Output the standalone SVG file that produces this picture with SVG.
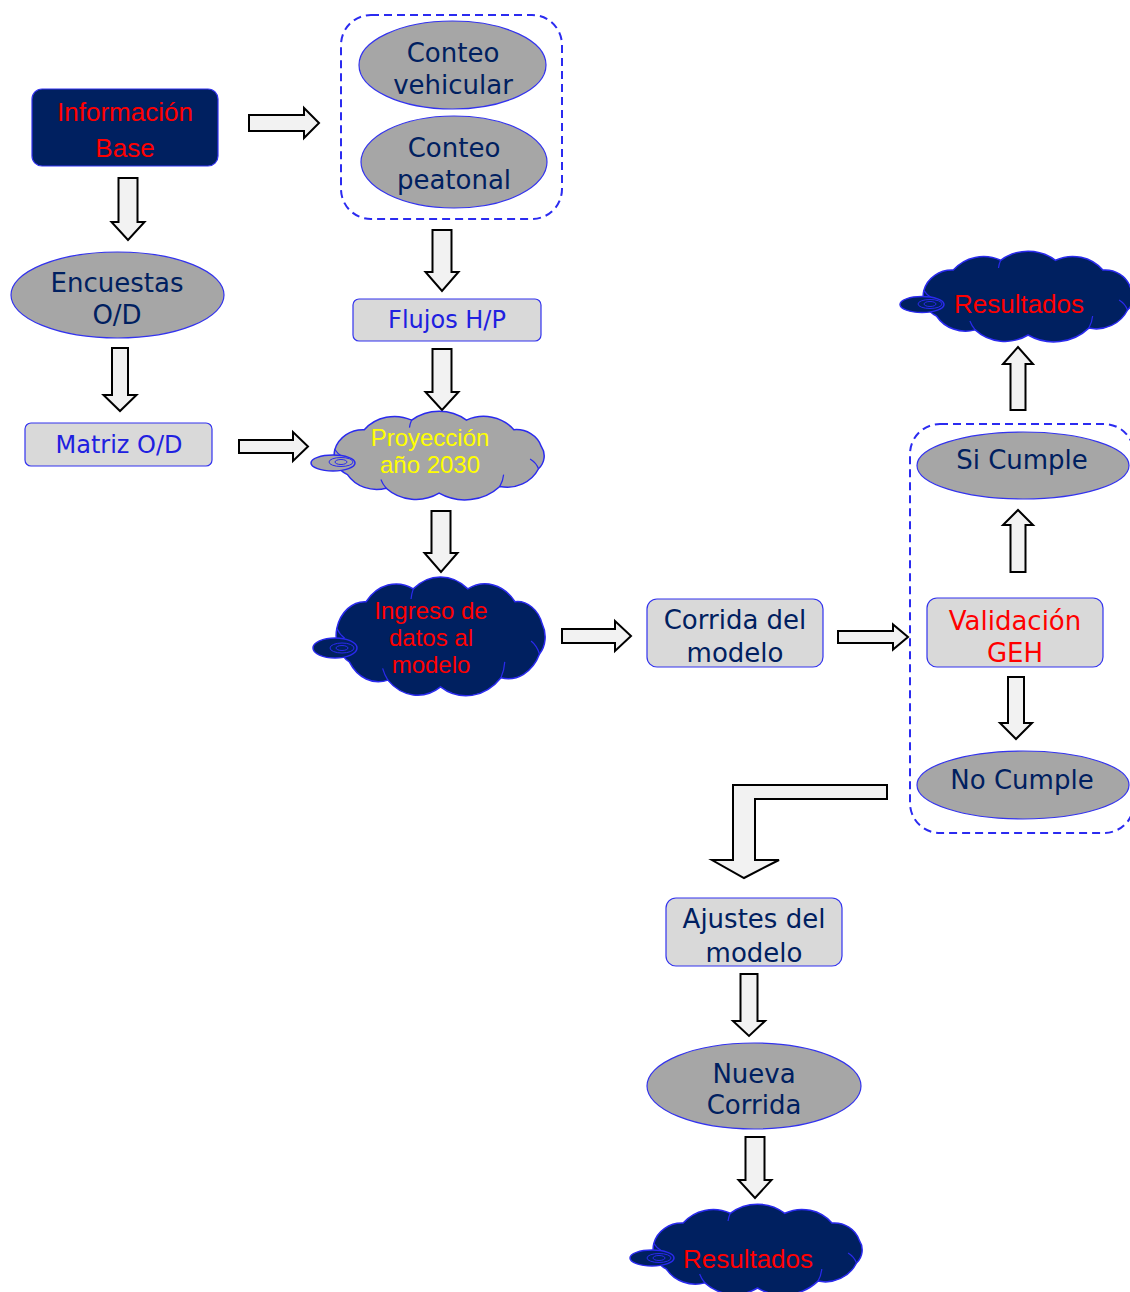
<svg xmlns="http://www.w3.org/2000/svg" xmlns:xlink="http://www.w3.org/1999/xlink" width="1130" height="1292" viewBox="0 0 1130 1292">
  <style>
    .ell { fill: #a6a6a6; stroke: #3333ee; stroke-width: 1.2; }
    .box { fill: #d9d9d9; stroke: #3333ee; stroke-width: 1.2; }
    .navybox { fill: #002060; stroke: #3333ee; stroke-width: 1.2; }
    .grp { fill: none; stroke: #2b2bf0; stroke-width: 2; stroke-dasharray: 8 5; }
    .arr { fill: #f2f2f2; stroke: #000; stroke-width: 2; stroke-linejoin: miter; }
    .t { font-family: "DejaVu Sans", Verdana, sans-serif; font-size: 26px; text-anchor: middle; fill: #002060; }
    .tb { font-family: "DejaVu Sans", Verdana, sans-serif; font-size: 24px; text-anchor: middle; fill: #2020e0; }
    .tr { fill: #ff0000; }
    .c { font-family: "Liberation Sans", Arial, sans-serif; font-size: 26px; text-anchor: middle; }
    .cs { font-family: "Liberation Sans", Arial, sans-serif; font-size: 24px; text-anchor: middle; }
    .cloudGrey { fill: #a6a6a6; stroke: #2a2aee; stroke-width: 1.5; }
    .cloudNavy { fill: #002060; stroke: #2a2aee; stroke-width: 1.5; }
    .ring { fill: none; stroke: #2a2aee; stroke-width: 1; }
    .seam { fill: none; stroke: #2a2aee; stroke-width: 1.2; }
  </style>
  <defs>
    <!-- cloud outline in a 220 x 90 box: shallow bumps strung along an oval -->
    <path id="cloudBody" vector-effect="non-scaling-stroke" d="M 23.4 64 A 22.6 22.6 0 0 1 11.5 38.4 A 27.5 27.5 0 0 1 39.3 18.1 A 36.9 36.9 0 0 1 84.1 8.3 A 41.4 41.4 0 0 1 135.9 8.3 A 36.6 36.6 0 0 1 180.7 18.1 A 24.8 24.8 0 0 1 206.6 35.2 A 18.6 18.6 0 0 1 204 58 A 32.8 32.8 0 0 1 167.4 76.1 A 46.6 46.6 0 0 1 110 83 A 40.4 40.4 0 0 1 60 77.9 A 32.6 32.6 0 0 1 23.4 64 Z"/>
    <path id="cloudSeams" vector-effect="non-scaling-stroke" d="M 204 58 A 20 20 0 0 0 196 48 M 167.4 76.1 A 30 30 0 0 0 171 64 M 60 77.9 A 30 30 0 0 1 55 69 M 11.5 38.4 A 20 20 0 0 0 19 46 M 84.1 8.3 A 30 30 0 0 0 82 16"/>
  </defs>

  <!-- block arrows -->
  <g id="connectors">
    <path class="arr" d="M249 115 V131 H304 V138 L319 123 L304 108 V115 Z"/>
    <path class="arr" d="M118.5 178 H137.5 V222 H144.5 L128 240 L111.5 222 H118.5 Z"/>
    <path class="arr" d="M112 348 H128 V395 H136.5 L120 411 L103.5 395 H112 Z"/>
    <path class="arr" d="M239 440 V453 H293 V461 L308 446.5 L293 432 V440 Z"/>
    <path class="arr" d="M432.5 230 H451.5 V272 H458.5 L442 291 L425.5 272 H432.5 Z"/>
    <path class="arr" d="M432.5 349 H451.5 V392 H458.5 L442 410 L425.5 392 H432.5 Z"/>
    <path class="arr" d="M431.5 511 H450.5 V553 H457.5 L441 572 L424.5 553 H431.5 Z"/>
    <path class="arr" d="M562 629 V643 H615 V651 L631 636 L615 621 V629 Z"/>
    <path class="arr" d="M838 631 V643 H893 V649.5 L908 637 L893 624.5 V631 Z"/>
    <path class="arr" d="M1010.5 572 H1025.5 V525 H1033 L1018 510 L1003 525 H1010.5 Z"/>
    <path class="arr" d="M1010.5 410 H1025.5 V364 H1033 L1018 347 L1003 364 H1010.5 Z"/>
    <path class="arr" d="M1008 677 H1024 V723 H1032 L1016 739 L1000 723 H1008 Z"/>
    <path class="arr" d="M887 785 H733 V860 H712 L744 878 L779 860 H755 V799 H887 Z"/>
    <path class="arr" d="M740.5 974 H757.5 V1021 H765 L749 1036 L733 1021 H740.5 Z"/>
    <path class="arr" d="M745.5 1137 H764.5 V1180 H771.5 L755 1198 L738.5 1180 H745.5 Z"/>
  </g>

  <g id="info-base">
    <rect class="navybox" x="32" y="89" width="186" height="77" rx="10"/>
    <text class="c tr" x="125" y="121" font-size="27">Información</text>
    <text class="c tr" x="125" y="157" font-size="27">Base</text>
  </g>

  <g id="conteos">
    <rect class="grp" x="341" y="15" width="221" height="204" rx="30"/>
  </g>
  <g id="conteo-vehicular">
    <ellipse class="ell" cx="452.5" cy="65" rx="93.5" ry="44"/>
    <text class="t" x="453" y="62">Conteo</text>
    <text class="t" x="453" y="94">vehicular</text>
  </g>
  <g id="conteo-peatonal">
    <ellipse class="ell" cx="454" cy="162" rx="93" ry="46"/>
    <text class="t" x="454" y="157">Conteo</text>
    <text class="t" x="454" y="189">peatonal</text>
  </g>

  <g id="encuestas">
    <ellipse class="ell" cx="117.5" cy="295" rx="106.5" ry="43"/>
    <text class="t" x="117" y="292">Encuestas</text>
    <text class="t" x="117" y="324">O/D</text>
  </g>

  <g id="matriz">
    <rect class="box" x="25" y="423" width="187" height="43" rx="6"/>
    <text class="tb" x="119" y="453">Matriz O/D</text>
  </g>

  <g id="flujos">
    <rect class="box" x="353" y="299" width="188" height="42" rx="6"/>
    <text class="tb" x="447" y="328">Flujos H/P</text>
  </g>

  <g id="proyeccion">
    <use href="#cloudBody" class="cloudGrey" transform="translate(322.7 412) scale(1.058 0.978)"/>
    <use href="#cloudSeams" class="seam" transform="translate(322.7 412) scale(1.058 0.978)"/>
    <ellipse class="cloudGrey" cx="333" cy="463" rx="22" ry="8"/>
    <ellipse class="ring" cx="341" cy="462" rx="12" ry="4.5"/>
    <ellipse class="ring" cx="341" cy="462" rx="6" ry="2.5"/>
    <text class="cs" fill="#ffff00" x="430" y="446">Proyección</text>
    <text class="cs" fill="#ffff00" x="430" y="473">año 2030</text>
  </g>

  <g id="ingreso">
    <use href="#cloudBody" class="cloudNavy" transform="translate(324.7 578) scale(1.053 1.311)"/>
    <use href="#cloudSeams" class="seam" transform="translate(324.7 578) scale(1.053 1.311)"/>
    <ellipse class="cloudNavy" cx="335" cy="648" rx="22" ry="10"/>
    <ellipse class="ring" cx="342" cy="648" rx="12" ry="5"/>
    <ellipse class="ring" cx="342" cy="648" rx="6" ry="2.5"/>
    <text class="cs tr" x="431" y="619">Ingreso de</text>
    <text class="cs tr" x="431" y="646">datos al</text>
    <text class="cs tr" x="431" y="673">modelo</text>
  </g>

  <g id="corrida">
    <rect class="box" x="647" y="599" width="176" height="68" rx="10"/>
    <text class="t" x="735" y="629">Corrida del</text>
    <text class="t" x="735" y="662">modelo</text>
  </g>

  <g id="validacion-grupo">
    <rect class="grp" x="910" y="424" width="224" height="409" rx="30"/>
  </g>
  <g id="si-cumple">
    <ellipse class="ell" cx="1023" cy="465.5" rx="106" ry="33.5"/>
    <text class="t" x="1022" y="469">Si Cumple</text>
  </g>
  <g id="validacion">
    <rect class="box" x="927" y="598" width="176" height="69" rx="10"/>
    <text class="t tr" x="1015" y="630">Validación</text>
    <text class="t tr" x="1015" y="662">GEH</text>
  </g>
  <g id="no-cumple">
    <ellipse class="ell" cx="1023" cy="785" rx="106" ry="34"/>
    <text class="t" x="1022" y="789">No Cumple</text>
  </g>

  <g id="resultados-1">
    <use href="#cloudBody" class="cloudNavy" transform="translate(911.7 252) scale(1.058 1)"/>
    <use href="#cloudSeams" class="seam" transform="translate(911.7 252) scale(1.058 1)"/>
    <ellipse class="cloudNavy" cx="922" cy="304.5" rx="22" ry="8"/>
    <ellipse class="ring" cx="930" cy="304" rx="12" ry="4.5"/>
    <ellipse class="ring" cx="930" cy="304" rx="6" ry="2.5"/>
    <text class="c tr" x="1019" y="313">Resultados</text>
  </g>

  <g id="ajustes">
    <rect class="box" x="666" y="898" width="176" height="68" rx="10"/>
    <text class="t" x="754" y="928">Ajustes del</text>
    <text class="t" x="754" y="962">modelo</text>
  </g>

  <g id="nueva-corrida">
    <ellipse class="ell" cx="754" cy="1086" rx="107" ry="43"/>
    <text class="t" x="754" y="1083">Nueva</text>
    <text class="t" x="754" y="1114">Corrida</text>
  </g>

  <g id="resultados-2">
    <use href="#cloudBody" class="cloudNavy" transform="translate(641.7 1205) scale(1.053 1)"/>
    <use href="#cloudSeams" class="seam" transform="translate(641.7 1205) scale(1.053 1)"/>
    <ellipse class="cloudNavy" cx="652" cy="1258" rx="22" ry="8"/>
    <ellipse class="ring" cx="659" cy="1258" rx="12" ry="4.5"/>
    <ellipse class="ring" cx="659" cy="1258" rx="6" ry="2.5"/>
    <text class="c tr" x="748" y="1268">Resultados</text>
  </g>
</svg>
